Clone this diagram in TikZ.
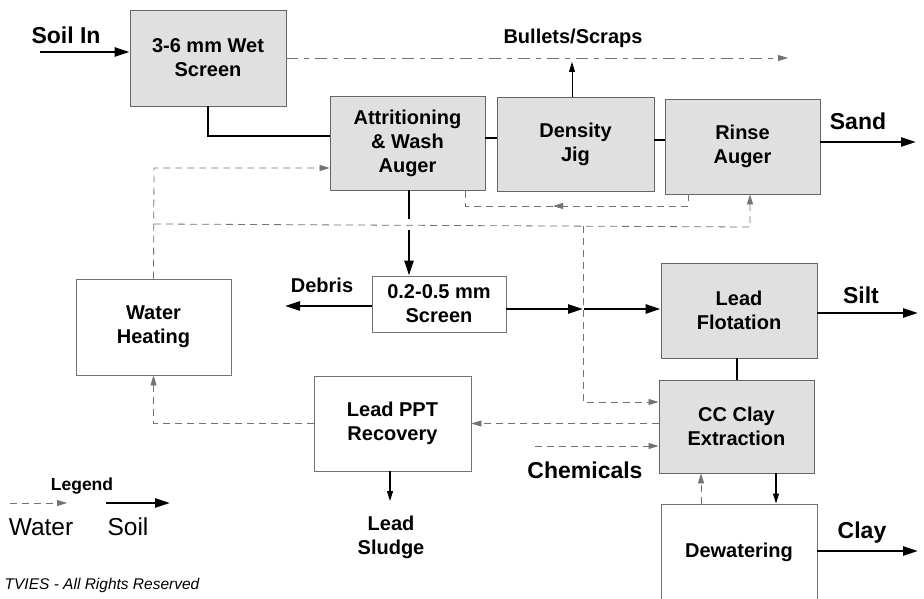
\documentclass[tikz,border=0pt]{standalone}
\usepackage{fontspec}
\setmainfont{Liberation Sans}
\usetikzlibrary{arrows.meta}
\begin{document}
\begin{tikzpicture}[x=1pt,y=-1pt,
  boxtxt/.style={font=\bfseries\fontsize{20}{24}\selectfont, align=center},
  shbox/.style={boxtxt, draw=black!60, line width=0.9pt, fill=black!12, inner sep=0pt},
  whbox/.style={boxtxt, draw=black!55, line width=0.9pt, fill=white, inner sep=0pt},
  lbl/.style={font=\bfseries\fontsize{20}{24}\selectfont, align=center},
  biglbl/.style={font=\bfseries\fontsize{23}{26}\selectfont, align=center},
  soil/.style={line width=2.6pt, -{Triangle[length=15pt,width=9pt]}},
  soilline/.style={line width=2.6pt},
  thin/.style={line width=1.2pt, -{Triangle[length=10pt,width=6pt]}},
  water/.style={draw=black!55, line width=0.8pt, dash pattern=on 7pt off 5pt},
  waterarr/.style={water, -{Triangle[length=10pt,width=6pt]}, color=black!55},
  tip/.style={-{Triangle[length=10pt,width=6pt]}}
]
\clip (0,0) rectangle (924,599);
\fill[white] (0,0) rectangle (924,599);

% boxes
\node[shbox, minimum width=156pt, minimum height=96pt] (ws) at (208,58) {3-6 mm Wet\\Screen};
\node[shbox, minimum width=155pt, minimum height=94pt] (att) at (407.5,143) {Attritioning\\\& Wash\\Auger};
\node[shbox, minimum width=157pt, minimum height=94pt] (jig) at (575.5,144) {Density\\Jig};
\node[shbox, minimum width=155pt, minimum height=95pt] (rinse) at (742.5,146.5) {Rinse\\Auger};
\node[whbox, minimum width=155pt, minimum height=96pt] (wh) at (153.5,327) {Water\\Heating};
\node[whbox, minimum width=134pt, minimum height=56pt] (scr) at (439,304) {0.2-0.5 mm\\Screen};
\node[shbox, minimum width=156pt, minimum height=95pt] (flot) at (739,310.5) {Lead\\Flotation};
\node[shbox, minimum width=155pt, minimum height=93pt] (cc) at (736.5,426.5) {CC Clay\\Extraction};
\node[whbox, minimum width=157pt, minimum height=95pt] (ppt) at (392.5,423.5) {Lead PPT\\Recovery};
\node[whbox, minimum width=156pt, minimum height=96pt] (dew) at (739,552) {Dewatering};

% labels
\node[biglbl] (lsoilin) at (66,35) {Soil In};
\node[lbl] (lbul) at (573,38) {Bullets/Scraps};
\node[biglbl] (lsand) at (858,121) {Sand};
\node[lbl] (ldeb) at (322,285) {Debris};
\node[biglbl] (lsilt) at (861,295) {Silt};
\node[biglbl] (lchem) at (585,470) {Chemicals};
\node[biglbl] (lclay) at (862,533) {Clay};
\node[lbl] (lsludge) at (391,537) {Lead\\Sludge};

% coordinates
\coordinate (soilin) at (40,52);
\coordinate (bul) at (788,58);
\coordinate (bultip) at (572,62);
\coordinate (sand) at (916,142);
\coordinate (r1) at (688,206);
\coordinate (rmid) at (553,206);
\coordinate (r2) at (465,206);
\coordinate (h1) at (154,168);
\coordinate (h2) at (154,224);
\coordinate (j) at (583,226);
\coordinate (r3) at (750,227);
\coordinate (c1) at (583,402);
\coordinate (s1) at (583,309);
\coordinate (deb) at (285,306);
\coordinate (silt) at (918,313);
\coordinate (chem) at (535,446);
\coordinate (cdx) at (776,490);
\coordinate (dcx) at (701,490);
\coordinate (clay) at (918,551);
\coordinate (sl) at (390,501);
\coordinate (g1) at (409,219);
\coordinate (g2) at (409,230);

% soil flow
\draw[soil] (soilin) -- (soilin -| ws.west);
\draw[soilline] (ws.south) |- ([yshift=7pt]att.west);
\draw[soilline] ([yshift=5pt]att.east) -- ([yshift=5pt]att.east -| jig.west);
\draw[soilline] ([yshift=4pt]jig.east) -- ([yshift=4pt]jig.east -| rinse.west);
\draw[soil] (sand -| rinse.east) -- (sand);
\draw[soilline] (g1 |- att.south) -- (g1);
\draw[soil] (g2) -- (g2 |- scr.north);
\draw[soil] (s1 -| scr.east) -- (s1);
\draw[soil] ([xshift=1pt]s1) -- (s1 -| flot.west);
\draw[soil] (deb -| scr.west) -- (deb);
\draw[soil] (silt -| flot.east) -- (silt);
\draw[soilline] ([xshift=-2pt]flot.south) -- ([xshift=-2pt]flot.south |- cc.north);
\draw[soil] (clay -| dew.east) -- (clay);
\draw[thin] (cdx |- cc.south) -- (cdx |- dew.north);
\draw[thin] (sl |- ppt.south) -- (sl);
\draw[line width=0.8pt, tip] (bultip |- jig.north) -- (bultip);

% water flow
\draw[water, dash pattern=on 12pt off 6pt on 5pt off 6pt, tip] (ws.east) -- (bul);
\draw[waterarr] (r1 |- rinse.south) -- (r1) -- (rmid);
\draw[water] (rmid) -- (r2) -- (r2 |- att.south);
\draw[waterarr] (wh.north) -- (h1) -- (h1 -| att.west);
\draw[waterarr] (h2) -- (r3) -- (r3 |- rinse.south);
\draw[waterarr] (j) -- (c1) -- (c1 -| cc.west);
\draw[waterarr] (ppt.east -| cc.west) -- (ppt.east);
\draw[waterarr] (ppt.west) -- (ppt.west -| wh.south) -- (wh.south);
\draw[waterarr] (chem) -- (chem -| cc.west);
\draw[waterarr] (dcx |- dew.north) -- (dcx |- cc.south);

% legend
\node[font=\bfseries\fontsize{17.5}{20}\selectfont] (leg) at (82,486) {Legend};
\coordinate (lw1) at (10,503);
\coordinate (lw2) at (67,503);
\coordinate (ls1) at (106,503);
\coordinate (ls2) at (170,503);
\draw[waterarr] (lw1) -- (lw2);
\draw[soil] (ls1) -- (ls2);
\node[font=\fontsize{24.5}{26}\selectfont] (lwater) at (41,527) {Water};
\node[font=\fontsize{24.5}{26}\selectfont] (lsoil) at (128,527) {Soil};
\node[font=\itshape\fontsize{15.5}{17}\selectfont] (copy) at (102,585) {TVIES - All Rights Reserved};
\end{tikzpicture}
\end{document}
